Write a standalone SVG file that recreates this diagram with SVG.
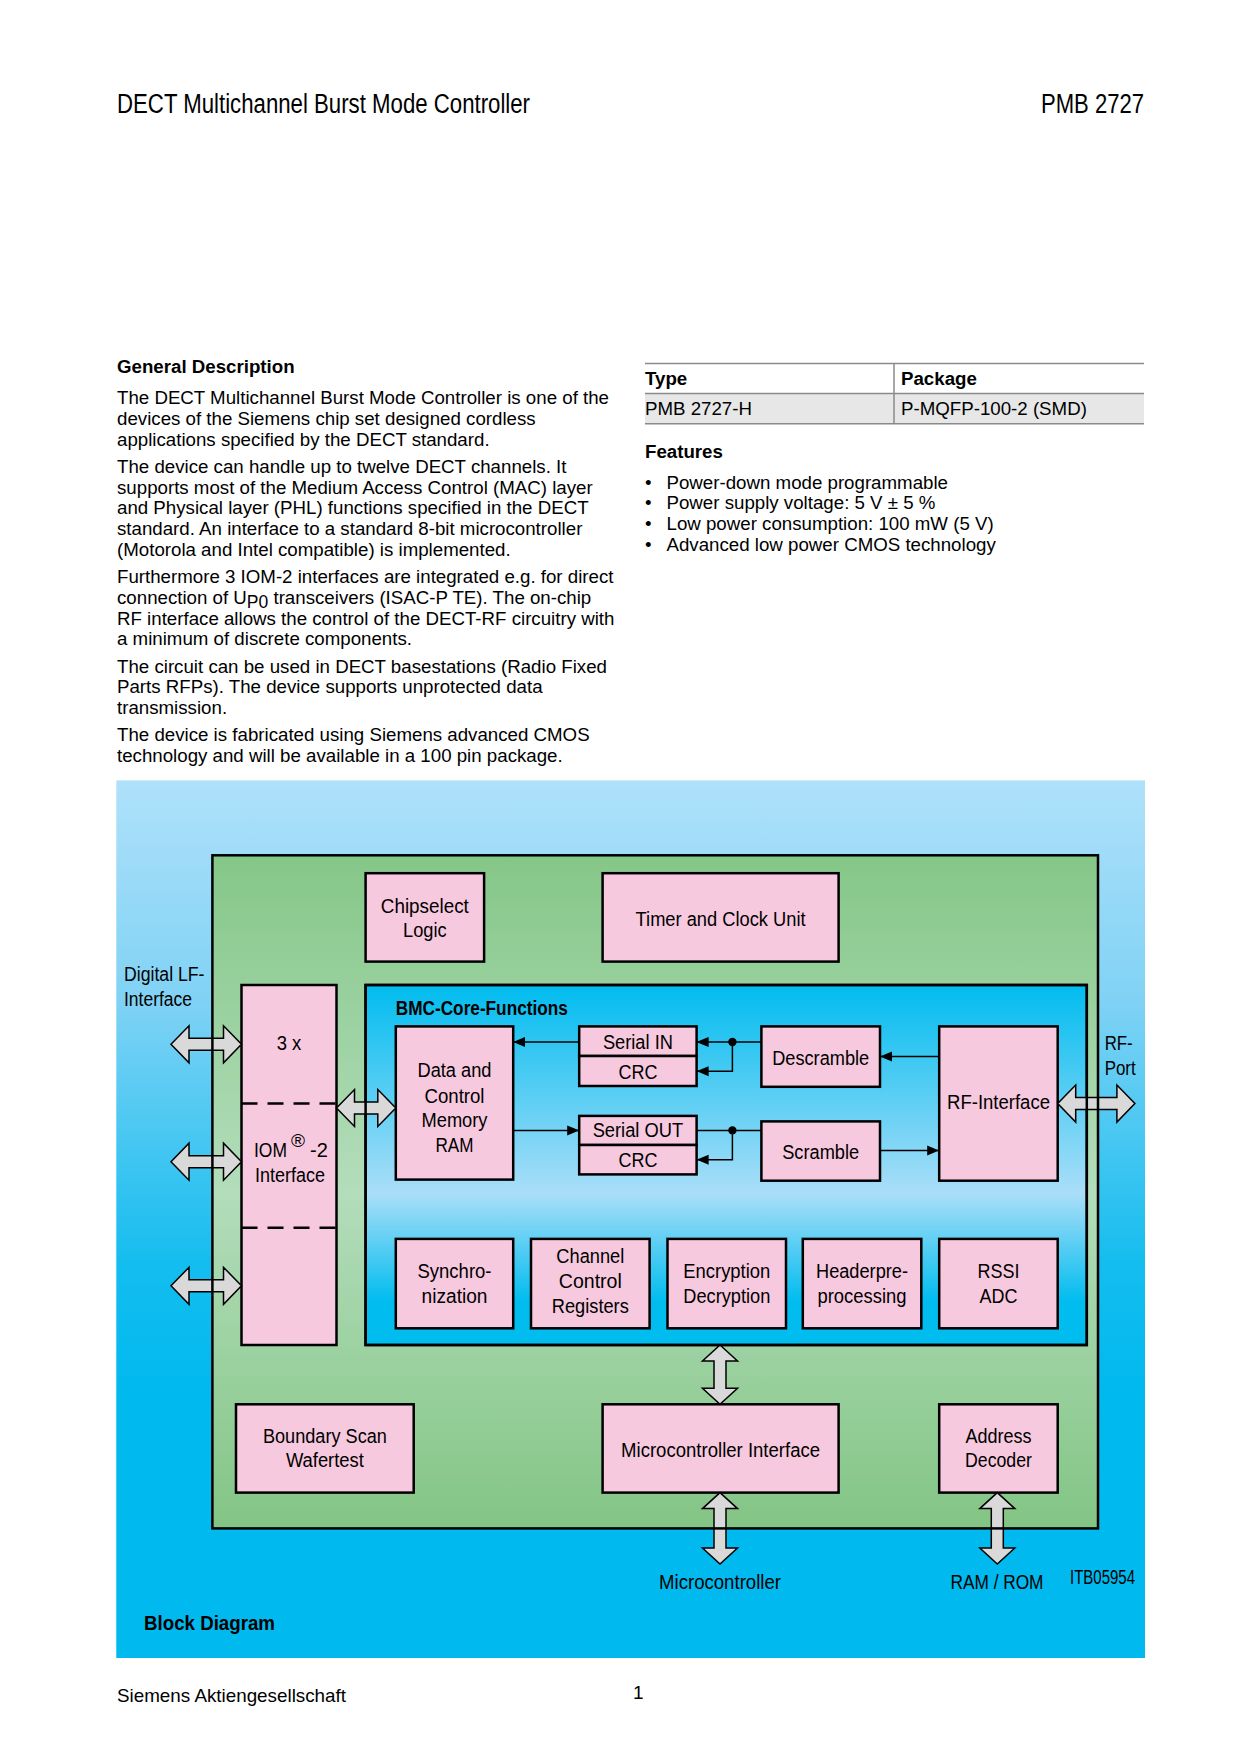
<svg xmlns="http://www.w3.org/2000/svg" width="1240" height="1754" viewBox="0 0 1240 1754">
<defs>
<linearGradient id="gBg" x1="0" y1="0" x2="0" y2="1">
<stop offset="0" stop-color="#afe1fa"/>
<stop offset="0.25" stop-color="#80d2f5"/>
<stop offset="0.55" stop-color="#14bdef"/>
<stop offset="0.7" stop-color="#00b9ef"/>
<stop offset="1" stop-color="#00b9ef"/>
</linearGradient>
<linearGradient id="gGreen" x1="0" y1="0" x2="0" y2="1">
<stop offset="0" stop-color="#85c788"/>
<stop offset="0.5" stop-color="#b3ddbb"/>
<stop offset="1" stop-color="#83c585"/>
</linearGradient>
<linearGradient id="gBmc" x1="0" y1="0" x2="0" y2="1">
<stop offset="0" stop-color="#00bcef"/>
<stop offset="0.58" stop-color="#aadef8"/>
<stop offset="0.88" stop-color="#00bcef"/>
<stop offset="1" stop-color="#00bcef"/>
</linearGradient>
<marker id="ah" viewBox="0 0 12 12" refX="12" refY="6" markerWidth="12" markerHeight="12" markerUnits="userSpaceOnUse" orient="auto">
<path d="M0,1 L12,6 L0,11 z" fill="#000"/>
</marker>
</defs>
<style>
.t{font-family:"Liberation Sans",Arial,sans-serif;fill:#000}
.body{font-size:18.7px}
.b{font-weight:bold}
.lbl{font-family:"Liberation Sans",Arial,sans-serif;font-size:20px;fill:#000;text-anchor:middle}
.lbs{font-family:"Liberation Sans",Arial,sans-serif;font-size:20px;fill:#000}
.box{fill:#f7c9de;stroke:#000;stroke-width:2.5}
.dbl{fill:#d9d9d9;stroke:#000;stroke-width:1.5;stroke-linejoin:miter}
.ln{fill:none;stroke:#000;stroke-width:1.5}
.tl{stroke:#8a8a8a;stroke-width:1.5}
</style>
<rect width="1240" height="1754" fill="#fff"/>

<g id="header">
<text class="t" x="117" y="113" font-size="27" textLength="413" lengthAdjust="spacingAndGlyphs">DECT Multichannel Burst Mode Controller</text>
<text class="t" x="1144" y="113" font-size="27" text-anchor="end" textLength="103" lengthAdjust="spacingAndGlyphs">PMB 2727</text>
</g>

<g id="description" class="t body">
<text class="t body b" x="117" y="373">General Description</text>
<text x="117" y="404">The DECT Multichannel Burst Mode Controller is one of the</text>
<text x="117" y="424.8">devices of the Siemens chip set designed cordless</text>
<text x="117" y="445.6">applications specified by the DECT standard.</text>
<text x="117" y="472.7">The device can handle up to twelve DECT channels. It</text>
<text x="117" y="493.5">supports most of the Medium Access Control (MAC) layer</text>
<text x="117" y="514.3">and Physical layer (PHL) functions specified in the DECT</text>
<text x="117" y="535.1">standard. An interface to a standard 8-bit microcontroller</text>
<text x="117" y="555.9">(Motorola and Intel compatible) is implemented.</text>
<text x="117" y="583">Furthermore 3 IOM-2 interfaces are integrated e.g. for direct</text>
<text x="117" y="603.8">connection of U<tspan dy="4.5" font-size="17.5">P0</tspan><tspan dy="-4.5"> transceivers (ISAC-P TE). The on-chip</tspan></text>
<text x="117" y="624.6">RF interface allows the control of the DECT-RF circuitry with</text>
<text x="117" y="645.4">a minimum of discrete components.</text>
<text x="117" y="672.5">The circuit can be used in DECT basestations (Radio Fixed</text>
<text x="117" y="693.3">Parts RFPs). The device supports unprotected data</text>
<text x="117" y="714.1">transmission.</text>
<text x="117" y="741.2">The device is fabricated using Siemens advanced CMOS</text>
<text x="117" y="762">technology and will be available in a 100 pin package.</text>
</g>

<g id="type-table">
<rect x="645" y="393.6" width="499" height="30.2" fill="#e7e7e7"/>
<line class="tl" x1="645" y1="363.4" x2="1144" y2="363.4"/>
<line class="tl" x1="645" y1="393.6" x2="1144" y2="393.6"/>
<line class="tl" x1="645" y1="423.8" x2="1144" y2="423.8"/>
<line class="tl" x1="894" y1="363.4" x2="894" y2="423.8"/>
<text class="t body b" x="645" y="384.5">Type</text>
<text class="t body b" x="901" y="384.5">Package</text>
<text class="t body" x="645" y="414.7">PMB 2727-H</text>
<text class="t body" x="901" y="414.7">P-MQFP-100-2 (SMD)</text>
</g>

<g id="features" class="t body">
<text class="t body b" x="645" y="458">Features</text>
<text x="645" y="488.5">•</text><text x="666.5" y="488.5">Power-down mode programmable</text>
<text x="645" y="509.3">•</text><text x="666.5" y="509.3">Power supply voltage: 5 V ± 5 %</text>
<text x="645" y="530.1">•</text><text x="666.5" y="530.1">Low power consumption: 100 mW (5 V)</text>
<text x="645" y="550.9">•</text><text x="666.5" y="550.9">Advanced low power CMOS technology</text>
</g>

<g id="diagram-background">
<rect x="116.3" y="780.4" width="1028.7" height="877.6" fill="url(#gBg)"/>
<rect x="212.4" y="855.3" width="885.6" height="673.1" fill="url(#gGreen)"/>
</g>

<g id="bmc-core">
<rect x="365.6" y="985" width="721.2" height="360" fill="url(#gBmc)" stroke="#000" stroke-width="2.5"/>
<text class="lbs b" x="395.8" y="1014.5" textLength="172" lengthAdjust="spacingAndGlyphs">BMC-Core-Functions</text>
</g>

<g id="chipselect"><rect class="box" x="365.6" y="873.2" width="118.5" height="88.4"/>
<text class="lbl" x="424.8" y="912.6" textLength="88" lengthAdjust="spacingAndGlyphs">Chipselect</text>
<text class="lbl" x="424.8" y="937" textLength="43.6" lengthAdjust="spacingAndGlyphs">Logic</text></g>

<g id="timer"><rect class="box" x="602.6" y="873.2" width="236" height="88.4"/>
<text class="lbl" x="720.6" y="926" textLength="170" lengthAdjust="spacingAndGlyphs">Timer and Clock Unit</text></g>

<g id="iom">
<rect class="box" x="241.5" y="985" width="95" height="360"/>
<line x1="241.5" y1="1103.6" x2="336.5" y2="1103.6" stroke="#000" stroke-width="2.5" stroke-dasharray="16 10"/>
<line x1="241.5" y1="1227.7" x2="336.5" y2="1227.7" stroke="#000" stroke-width="2.5" stroke-dasharray="16 10"/>
<text class="lbl" x="289" y="1050" textLength="24.6" lengthAdjust="spacingAndGlyphs">3 x</text>
<text class="lbs" x="254" y="1157"><tspan textLength="33" lengthAdjust="spacingAndGlyphs">IOM</tspan><tspan x="291" dy="-10" font-size="19">®</tspan><tspan x="310" dy="10">-2</tspan></text>
<text class="lbl" x="290" y="1182" textLength="70" lengthAdjust="spacingAndGlyphs">Interface</text>
</g>

<g id="data-memory"><rect class="box" x="395.8" y="1026.4" width="117.4" height="153.2"/>
<text class="lbl" x="454.5" y="1077" textLength="74" lengthAdjust="spacingAndGlyphs">Data and</text>
<text class="lbl" x="454.5" y="1102.7" textLength="60" lengthAdjust="spacingAndGlyphs">Control</text>
<text class="lbl" x="454.5" y="1127.3" textLength="66" lengthAdjust="spacingAndGlyphs">Memory</text>
<text class="lbl" x="454.5" y="1152" textLength="38" lengthAdjust="spacingAndGlyphs">RAM</text></g>

<g id="serial-in"><rect class="box" x="579.2" y="1026.4" width="117.4" height="29.6"/>
<text class="lbl" x="637.9" y="1049" textLength="70" lengthAdjust="spacingAndGlyphs">Serial IN</text></g>
<g id="crc-in"><rect class="box" x="579.2" y="1056" width="117.4" height="30"/>
<text class="lbl" x="637.9" y="1078.5" textLength="39" lengthAdjust="spacingAndGlyphs">CRC</text></g>
<g id="serial-out"><rect class="box" x="579.2" y="1115.9" width="117.4" height="29.1"/>
<text class="lbl" x="637.9" y="1137.4" textLength="90.5" lengthAdjust="spacingAndGlyphs">Serial OUT</text></g>
<g id="crc-out"><rect class="box" x="579.2" y="1145" width="117.4" height="29.4"/>
<text class="lbl" x="637.9" y="1166.5" textLength="39" lengthAdjust="spacingAndGlyphs">CRC</text></g>

<g id="descramble"><rect class="box" x="761.4" y="1026.4" width="118.6" height="60.4"/>
<text class="lbl" x="820.7" y="1064.7" textLength="97" lengthAdjust="spacingAndGlyphs">Descramble</text></g>
<g id="scramble"><rect class="box" x="761.4" y="1121.4" width="118.6" height="59.3"/>
<text class="lbl" x="820.7" y="1158.6" textLength="77" lengthAdjust="spacingAndGlyphs">Scramble</text></g>
<g id="rf-interface"><rect class="box" x="939.2" y="1026.4" width="118.5" height="154.3"/>
<text class="lbl" x="998.5" y="1109.4" textLength="103" lengthAdjust="spacingAndGlyphs">RF-Interface</text></g>

<g id="synchronization"><rect class="box" x="395.8" y="1238.9" width="117.4" height="89.4"/>
<text class="lbl" x="454.5" y="1278.3" textLength="74" lengthAdjust="spacingAndGlyphs">Synchro-</text>
<text class="lbl" x="454.5" y="1303" textLength="66" lengthAdjust="spacingAndGlyphs">nization</text></g>
<g id="channel-control"><rect class="box" x="531" y="1238.9" width="118.6" height="89.4"/>
<text class="lbl" x="590.3" y="1262.6" textLength="68" lengthAdjust="spacingAndGlyphs">Channel</text>
<text class="lbl" x="590.3" y="1288.3" textLength="63" lengthAdjust="spacingAndGlyphs">Control</text>
<text class="lbl" x="590.3" y="1313" textLength="77" lengthAdjust="spacingAndGlyphs">Registers</text></g>
<g id="encryption"><rect class="box" x="667.5" y="1238.9" width="118.5" height="89.4"/>
<text class="lbl" x="726.8" y="1278.3" textLength="87" lengthAdjust="spacingAndGlyphs">Encryption</text>
<text class="lbl" x="726.8" y="1303" textLength="87" lengthAdjust="spacingAndGlyphs">Decryption</text></g>
<g id="headerpre"><rect class="box" x="802.8" y="1238.9" width="118.5" height="89.4"/>
<text class="lbl" x="862" y="1278.3" textLength="92" lengthAdjust="spacingAndGlyphs">Headerpre-</text>
<text class="lbl" x="862" y="1303" textLength="89" lengthAdjust="spacingAndGlyphs">processing</text></g>
<g id="rssi"><rect class="box" x="939.2" y="1238.9" width="118.5" height="89.4"/>
<text class="lbl" x="998.5" y="1278.3" textLength="42" lengthAdjust="spacingAndGlyphs">RSSI</text>
<text class="lbl" x="998.5" y="1303" textLength="38" lengthAdjust="spacingAndGlyphs">ADC</text></g>

<g id="boundary-scan"><rect class="box" x="236" y="1404.3" width="177.7" height="88.3"/>
<text class="lbl" x="324.9" y="1442.6" textLength="124" lengthAdjust="spacingAndGlyphs">Boundary Scan</text>
<text class="lbl" x="324.9" y="1467.2" textLength="78" lengthAdjust="spacingAndGlyphs">Wafertest</text></g>
<g id="mc-interface"><rect class="box" x="602.6" y="1404.3" width="236" height="88.3"/>
<text class="lbl" x="720.6" y="1457" textLength="199" lengthAdjust="spacingAndGlyphs">Microcontroller Interface</text></g>
<g id="address-decoder"><rect class="box" x="939.2" y="1404.3" width="118.5" height="88.3"/>
<text class="lbl" x="998.5" y="1442.6" textLength="66" lengthAdjust="spacingAndGlyphs">Address</text>
<text class="lbl" x="998.5" y="1467.2" textLength="67" lengthAdjust="spacingAndGlyphs">Decoder</text></g>

<g id="connectors">
<polygon class="dbl" points="171,1044.3 189,1025.8 189,1038.3 223.5,1038.3 223.5,1025.8 241.5,1044.3 223.5,1062.8 223.5,1050.3 189,1050.3 189,1062.8"/>
<polygon class="dbl" points="171,1161.7 189,1143.2 189,1155.7 223.5,1155.7 223.5,1143.2 241.5,1161.7 223.5,1180.2 223.5,1167.7 189,1167.7 189,1180.2"/>
<polygon class="dbl" points="171,1285.8 189,1267.3 189,1279.8 223.5,1279.8 223.5,1267.3 241.5,1285.8 223.5,1304.3 223.5,1291.8 189,1291.8 189,1304.3"/>
<polygon class="dbl" points="336.5,1108 354.5,1089.5 354.5,1102 377.8,1102 377.8,1089.5 395.8,1108 377.8,1126.5 377.8,1114 354.5,1114 354.5,1126.5"/>
<polygon class="dbl" points="1057.7,1103.6 1075.7,1085.1 1075.7,1097.6 1116.9,1097.6 1116.9,1085.1 1134.9,1103.6 1116.9,1122.1 1116.9,1109.6 1075.7,1109.6 1075.7,1122.1"/>
<polygon class="dbl" points="720,1345 737.5,1361 726,1361 726,1388.3 737.5,1388.3 720,1404.3 702.5,1388.3 714,1388.3 714,1361 702.5,1361"/>
<polygon class="dbl" points="720,1492.6 737.5,1508.6 726,1508.6 726,1548 737.5,1548 720,1564 702.5,1548 714,1548 714,1508.6 702.5,1508.6"/>
<polygon class="dbl" points="997.3,1492.6 1014.8,1508.6 1003.3,1508.6 1003.3,1548 1014.8,1548 997.3,1564 979.8,1548 991.3,1548 991.3,1508.6 979.8,1508.6"/>
<line class="ln" x1="579.2" y1="1042" x2="513.2" y2="1042" marker-end="url(#ah)"/>
<line class="ln" x1="513.2" y1="1130.4" x2="579.2" y2="1130.4" marker-end="url(#ah)"/>
<line class="ln" x1="761.4" y1="1042" x2="696.6" y2="1042" marker-end="url(#ah)"/>
<polyline class="ln" points="732.4,1042 732.4,1071.2 696.6,1071.2" marker-end="url(#ah)"/>
<circle cx="732.4" cy="1042" r="4.2" fill="#000"/>
<line class="ln" x1="696.6" y1="1130.4" x2="761.4" y2="1130.4"/>
<polyline class="ln" points="732.4,1130.4 732.4,1159.7 696.6,1159.7" marker-end="url(#ah)"/>
<circle cx="732.4" cy="1130.4" r="4.2" fill="#000"/>
<line class="ln" x1="939.2" y1="1056.6" x2="880" y2="1056.6" marker-end="url(#ah)"/>
<line class="ln" x1="880" y1="1150.5" x2="939.2" y2="1150.5" marker-end="url(#ah)"/>
</g>

<g id="outlines">
<rect x="212.4" y="855.3" width="885.6" height="673.1" fill="none" stroke="#000" stroke-width="2.5"/>
<rect x="365.6" y="985" width="721.2" height="360" fill="none" stroke="#000" stroke-width="2.5"/>
</g>

<g id="external-labels">
<text class="lbs" x="124" y="981" textLength="80.5" lengthAdjust="spacingAndGlyphs">Digital LF-</text>
<text class="lbs" x="124" y="1005.5" textLength="68" lengthAdjust="spacingAndGlyphs">Interface</text>
<text class="lbs" x="1104.7" y="1050" textLength="28" lengthAdjust="spacingAndGlyphs">RF-</text>
<text class="lbs" x="1104.7" y="1074.8" textLength="31" lengthAdjust="spacingAndGlyphs">Port</text>
<text class="lbl" x="720" y="1589" textLength="122" lengthAdjust="spacingAndGlyphs">Microcontroller</text>
<text class="lbl" x="997" y="1589" textLength="93" lengthAdjust="spacingAndGlyphs">RAM / ROM</text>
<text class="lbs" x="1070" y="1584" font-size="15" textLength="65" lengthAdjust="spacingAndGlyphs">ITB05954</text>
<text class="lbs b" x="144" y="1630" font-size="19" textLength="131" lengthAdjust="spacingAndGlyphs">Block Diagram</text>
</g>

<g id="footer">
<text class="t" x="117" y="1702" font-size="19" textLength="229" lengthAdjust="spacingAndGlyphs">Siemens Aktiengesellschaft</text>
<text class="t" x="633" y="1699" font-size="19">1</text>
</g>
</svg>
